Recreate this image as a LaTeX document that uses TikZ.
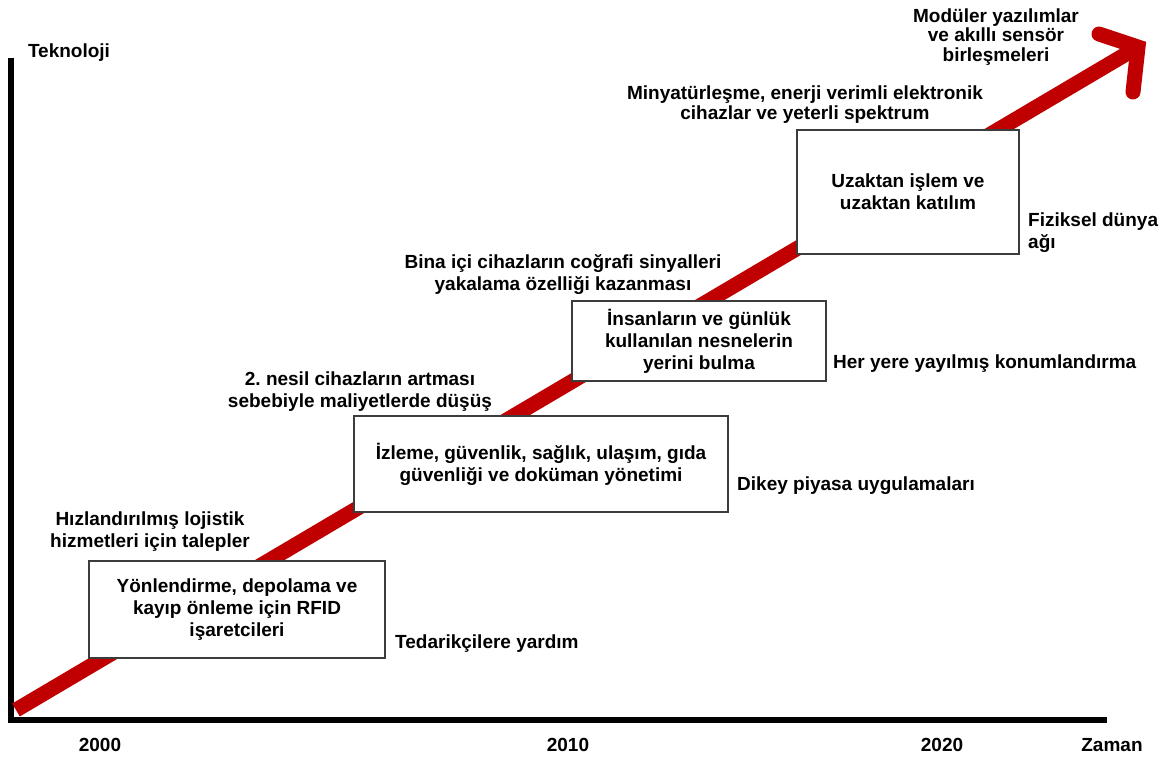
\documentclass[tikz,border=0pt]{standalone}
\usepackage{fontspec}
\setmainfont{Liberation Sans}
\frenchspacing
\definecolor{arrowred}{RGB}{192,0,0}
\definecolor{framegray}{RGB}{60,60,60}
\tikzstyle{box}=[draw=framegray, fill=white, line width=1.2pt, align=center, inner sep=0pt]
\tikzstyle{lbl}=[align=center, inner sep=0pt]

\begin{document}
\begin{tikzpicture}[
    x=1pt, y=-1pt,
    every node/.style={font=\fontsize{19}{22}\selectfont\bfseries}]

      \useasboundingbox (0,0) rectangle (1171,760);

      % axes
      \coordinate (top) at (10.5,58);
      \coordinate (origin) at (10.5,719.5);
      \coordinate (right) at (1107,719.5);
      \draw[line width=6pt] (top) -- (origin) -- (right);

      \node (tek) at (69,53) {Teknoloji};

      \foreach \yr/\x in {2000/100, 2010/568, 2020/942}
        \node (y\yr) at (\x,745) {\yr};
      \node (zaman) at (1112,745) {Zaman};

      % red arrow
      \coordinate (start) at (16,710);
      \coordinate (tip) at (1138,47);
      \coordinate (armup) at (1099,34);
      \coordinate (armdown) at (1133,92);
      \draw[arrowred, line width=15pt] (start) -- (tip);
      \draw[arrowred, line width=15pt, line cap=round, line join=miter] (armup) -- (tip) -- (armdown);

      % boxes
      \node[box, minimum width=296pt, minimum height=97pt] (rfid) at (237,609.5)
        {Yönlendirme, depolama ve\\kayıp önleme için RFID\\işaretcileri};
      \node[box, minimum width=374pt, minimum height=96pt] (izleme) at (541,464)
        {İzleme, güvenlik, sağlık, ulaşım, gıda\\güvenliği ve doküman yönetimi};
      \node[box, minimum width=254pt, minimum height=80pt] (yer) at (699,341)
        {İnsanların ve günlük\\kullanılan nesnelerin\\yerini bulma};
      \node[box, minimum width=222pt, minimum height=124pt] (uzak) at (908,192)
        {Uzaktan işlem ve\\uzaktan katılım};

      % labels
      \node[lbl] (talep) at (150,532) {Hızlandırılmış lojistik\\hizmetleri için talepler};
      \node[lbl, anchor=west] (yardim) at (395,643.5) {Tedarikçilere yardım};

      \node[lbl] (maliyet) at (360,392) {2. nesil cihazların artması\\sebebiyle maliyetlerde düşüş};
      \node[lbl, anchor=west] (dikey) at (737,485.5) {Dikey piyasa uygulamaları};

      \node[lbl] (bina) at (563,275) {Bina içi cihazların coğrafi sinyalleri\\yakalama özelliği kazanması};
      \node[lbl, anchor=west] (konum) at (833,363.5) {Her yere yayılmış konumlandırma};

      \node[lbl, font=\fontsize{19}{20}\selectfont\bfseries] (mini) at (805,105)
        {Minyatürleşme, enerji verimli elektronik\\cihazlar ve yeterli spektrum};
      \node[lbl, align=left, anchor=west] (fiziksel) at (1028,233) {Fiziksel dünya\\ağı};

      \node[lbl, font=\fontsize{19}{19.5}\selectfont\bfseries] (modul) at (996,37)
        {Modüler yazılımlar\\ve akıllı sensör\\birleşmeleri};

    \end{tikzpicture}
\end{document}
